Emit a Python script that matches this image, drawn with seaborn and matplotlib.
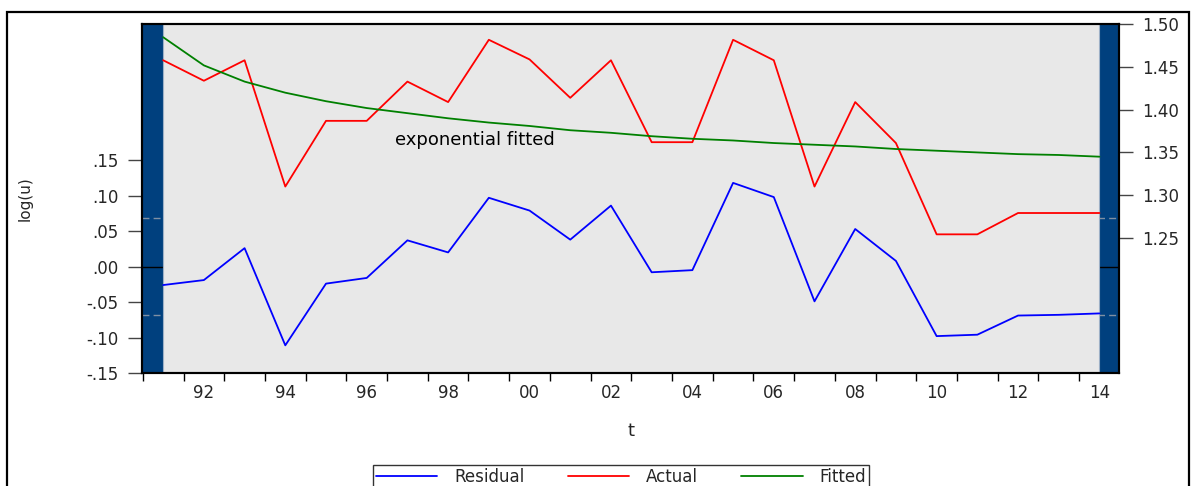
import matplotlib
matplotlib.use("Agg")
import matplotlib.pyplot as plt
import matplotlib.ticker as mticker
from matplotlib.patches import Rectangle
import numpy as np
import pandas as pd
import seaborn as sns

# Data (annual, 1991-2014)
years = list(range(1991, 2015))
residual = [-0.026, -0.019, 0.026, -0.111, -0.024, -0.016, 0.037, 0.020,
            0.097, 0.079, 0.038, 0.086, -0.008, -0.005, 0.118, 0.098,
            -0.049, 0.053, 0.008, -0.098, -0.096, -0.069, -0.068, -0.066]
actual = [1.458, 1.434, 1.458, 1.310, 1.387, 1.387, 1.433, 1.409,
          1.482, 1.459, 1.414, 1.458, 1.362, 1.362, 1.482, 1.458,
          1.310, 1.409, 1.361, 1.254, 1.254, 1.279, 1.279, 1.279]
fitted = [1.485, 1.452, 1.433, 1.420, 1.410, 1.402, 1.396, 1.390,
          1.385, 1.381, 1.376, 1.373, 1.369, 1.366, 1.364, 1.361,
          1.359, 1.357, 1.354, 1.352, 1.350, 1.348, 1.347, 1.345]
resid_sd = 0.068
left_ticks = [-0.15, -0.10, -0.05, 0.00, 0.05, 0.10, 0.15]
right_ticks = [1.25, 1.30, 1.35, 1.40, 1.45, 1.50]

df = pd.DataFrame({"t": years, "Residual": residual, "Actual": actual, "Fitted": fitted})

sns.set_style("ticks")
plt.rcParams["font.family"] = ["DejaVu Sans"]

fig = plt.figure(figsize=(11.94, 4.86), dpi=100)
ax = fig.add_axes([142 / 1194, 1 - 373 / 486, (1119 - 142) / 1194, (373 - 24) / 486])
ax2 = ax.twinx()

# dark blue frame with grey plotting region
ax.set_facecolor("#00407E")
ax.axvspan(years[0], years[-1], color="#E8E8E8", zorder=1, lw=0)
for xv in (years[0], years[-1]):
    ax.axvline(xv, color="#9DB0C6", lw=0.8, zorder=1.2)
ax.axhline(0, color="black", lw=1, zorder=0.5)
for s in (resid_sd, -resid_sd):
    ax.axhline(s, color="#7F8FA3", lw=1, ls=(0, (5, 3)), zorder=0.5)

sns.lineplot(data=df, x="t", y="Residual", ax=ax, color="#0000FF", lw=1.3, zorder=3)
sns.lineplot(data=df, x="t", y="Actual", ax=ax2, color="#FF0000", lw=1.3)
sns.lineplot(data=df, x="t", y="Fitted", ax=ax2, color="#008000", lw=1.3)

ax.set_xlim(1990.48, 2014.48)
ax.set_ylim(-0.15, 0.342)
ax2.set_ylim(1.0915, 1.5005)

# x ticks between observations, labels on even years
ax.xaxis.set_major_locator(mticker.FixedLocator(np.arange(1990.5, 2015, 1.0)))
ax.xaxis.set_major_formatter(mticker.NullFormatter())
ax.xaxis.set_minor_locator(mticker.FixedLocator(years[1::2]))
ax.xaxis.set_minor_formatter(mticker.FixedFormatter([f"{y % 100:02d}" for y in years[1::2]]))
ax.tick_params(axis="x", which="major", length=6, width=1, direction="out", color="black")
ax.tick_params(axis="x", which="minor", length=0, pad=8, labelsize=12)

ax.set_yticks(left_ticks)
ax.set_yticklabels([f"{v:.2f}".replace("0.", ".") for v in left_ticks])
ax.tick_params(axis="y", length=10, width=1, color="#444444", pad=7, labelsize=12)
ax2.set_yticks(right_ticks)
ax2.set_yticklabels([f"{v:.2f}" for v in right_ticks])
ax2.tick_params(axis="y", length=10, width=1, color="#444444", pad=7, labelsize=12)

ax.set_xlabel("t", fontsize=13)
ax.xaxis.set_label_coords(0.5, -0.166)
ax.xaxis.label.set_va("center")
ax.set_ylabel("log(u)", fontsize=11)
ax.yaxis.set_label_coords(-0.12, 0.5)
ax.yaxis.label.set_va("center")
ax2.set_ylabel("")

for a in (ax, ax2):
    for sp in a.spines.values():
        sp.set_visible(True)
        sp.set_color("black")
        sp.set_linewidth(1.5)

ax.text(0.259, 0.668, "exponential fitted", transform=ax.transAxes,
        fontsize=13, ha="left", va="center", color="black", zorder=5)

handles = [plt.Line2D([], [], color="#0000FF", lw=1.3),
           plt.Line2D([], [], color="#FF0000", lw=1.3),
           plt.Line2D([], [], color="#008000", lw=1.3)]
leg = fig.legend(handles, ["Residual", "Actual", "Fitted"], loc="upper center",
                 bbox_to_anchor=(0.52, 1 - 465 / 486), ncol=3, fontsize=12,
                 frameon=True, fancybox=False, edgecolor="black", handlelength=3.7,
                 handletextpad=1.0, columnspacing=2.6, borderpad=0.15,
                 borderaxespad=0)
leg.get_frame().set_linewidth(1.0)

# outer border of the graph
fig.add_artist(Rectangle((7 / 1194, -0.1), (1189 - 7) / 1194, 1.1 - 12 / 486,
                         transform=fig.transFigure, fill=False, edgecolor="black", lw=1.6))

fig.savefig("out.png", dpi=100)
